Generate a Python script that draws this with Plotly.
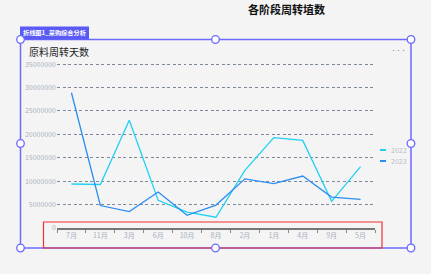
import plotly.graph_objects as go

months = ["7月", "11月", "3月", "6月", "10月", "8月", "2月", "1月", "4月", "9月", "5月"]
series_names = ["2022", "2023"]
values_2022 = [9400000, 9300000, 23000000, 5900000, 3400000, 2300000, 12300000, 19300000, 18700000, 5700000, 13100000]
values_2023 = [28900000, 4800000, 3500000, 7700000, 2700000, 4900000, 10500000, 9500000, 11100000, 6600000, 6100000]
y_ticks = [0, 5000000, 10000000, 15000000, 20000000, 25000000, 30000000, 35000000]
colors = ["#1fd1f5", "#2b8ef0"]

W, H = 431, 274
L, R, T, B = 57, 375, 63, 228
FONT = "Noto Sans CJK SC, Noto Sans, sans-serif"

def px(x):
    return (x - L) / (R - L)

def py(y):
    return (B - y) / (B - T)

fig = go.Figure()
for name, vals, c in zip(series_names, [values_2022, values_2023], colors):
    fig.add_trace(go.Scatter(x=months, y=vals, mode="lines", name=name,
                             line=dict(color=c, width=1.3), showlegend=False))

shapes = []
annotations = []
frame = "#6b6bff"
# selection frame
shapes.append(dict(type="rect", xref="paper", yref="paper", x0=px(20.5), x1=px(411), y0=py(39.5), y1=py(248),
                   line=dict(color=frame, width=1.5), fillcolor="rgba(0,0,0,0)", layer="above"))
# red box
shapes.append(dict(type="rect", xref="paper", yref="paper", x0=px(43.5), x1=px(382), y0=py(222), y1=py(248),
                   line=dict(color="#f03030", width=1.2), fillcolor="rgba(0,0,0,0)", layer="above"))
# tag
shapes.append(dict(type="rect", xref="paper", yref="paper", x0=px(20), x1=px(89), y0=py(26.5), y1=py(39.5),
                   line=dict(width=0), fillcolor="#5a5af5", layer="above"))
annotations.append(dict(xref="paper", yref="paper", x=px(54.5), y=py(33), text="<b>折线图1_采购综合分析</b>",
                        showarrow=False, xanchor="center", yanchor="middle",
                        font=dict(family=FONT, size=6.2, color="white")))
# handles
for hx, hy in [(20.5, 39.5), (215.5, 39.5), (411, 39.5), (20.5, 143.5), (411, 143.5), (20.5, 248), (215.5, 248), (411, 248)]:
    r = 3.8
    shapes.append(dict(type="circle", xref="paper", yref="paper", x0=px(hx - r), x1=px(hx + r),
                       y0=py(hy + r), y1=py(hy - r), line=dict(color=frame, width=1.3),
                       fillcolor="#ffffff", layer="above"))
# legend (manual, short symbols)
for i, (name, c) in enumerate(zip(series_names, colors)):
    yy = 150 + i * 11
    shapes.append(dict(type="line", xref="paper", yref="paper", x0=px(380), x1=px(386), y0=py(yy), y1=py(yy),
                       line=dict(color=c, width=2), layer="above"))
    annotations.append(dict(xref="paper", yref="paper", x=px(389), y=py(yy), text=name, showarrow=False,
                            xanchor="left", yanchor="middle",
                            font=dict(family=FONT, size=7, color="#b4bccb")))
# titles
annotations.append(dict(xref="paper", yref="paper", x=px(286), y=py(8.5), text="<b>各阶段周转埴数</b>",
                        showarrow=False, xanchor="center", yanchor="middle",
                        font=dict(family=FONT, size=11, color="#111111")))
annotations.append(dict(xref="paper", yref="paper", x=px(27), y=py(51.5), text="原料周转天数",
                        showarrow=False, xanchor="left", yanchor="middle",
                        font=dict(family=FONT, size=10, color="#222222")))
annotations.append(dict(xref="paper", yref="paper", x=px(398.5), y=py(50), text="•••",
                        showarrow=False, xanchor="center", yanchor="middle",
                        font=dict(family=FONT, size=5, color="#777777")))

fig.update_layout(
    width=W, height=H,
    margin=dict(l=L, r=W - R, t=T, b=H - B, pad=0),
    paper_bgcolor="#f4f4f4", plot_bgcolor="#f4f4f4",
    showlegend=False,
    shapes=shapes, annotations=annotations,
    xaxis=dict(type="category", range=[-0.5, len(months) - 0.5], showgrid=False, showline=True,
               linecolor="#777777", linewidth=1.5,
               ticks="outside", ticklen=3, tickcolor="#888888", tickson="boundaries",
               tickfont=dict(family=FONT, size=7, color="#a8b0bf"), zeroline=False, fixedrange=True),
    yaxis=dict(range=[0, 35250000], tickvals=y_ticks,
               tickformat="d", showline=False, zeroline=False,
               showgrid=True, gridcolor="#7d8898", griddash="3px,2.5px", gridwidth=1,
               tickfont=dict(family=FONT, size=7, color="#aab2c0"), ticks="", fixedrange=True),
)
fig.write_html("out.html")
